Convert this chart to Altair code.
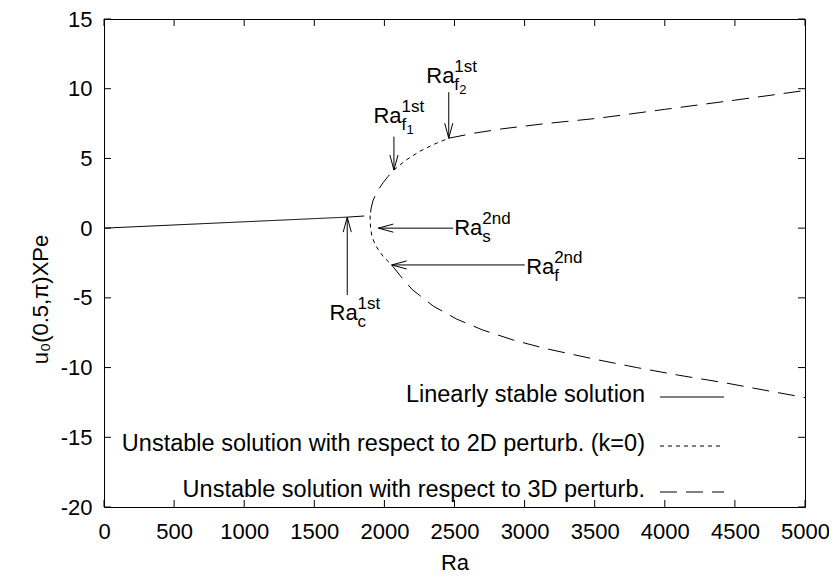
import altair as alt
import pandas as pd

# ---------------- data ----------------
stable_ra = [0, 1735]
stable_u = [0.0, 0.79]

up3d_inner_ra = [1735, 1898, 1906, 1918, 1935, 1960, 1990, 2025, 2068]
up3d_inner_u = [0.79, 0.90, 1.45, 1.95, 2.35, 2.80, 3.25, 3.70, 4.17]

up2d_ra = [2068, 2150, 2250, 2350, 2459]
up2d_u = [4.17, 4.85, 5.50, 6.00, 6.45]

up3d_outer_ra = [2459, 2646, 2837, 3150, 3523, 4000, 4500, 5000]
up3d_outer_u = [6.45, 6.82, 7.12, 7.50, 7.88, 8.52, 9.18, 9.87]

lo2d_ra = [1898, 1899, 1902, 1910, 1933, 1960, 1993, 2052]
lo2d_u = [0.90, 0.40, 0.00, -0.55, -1.15, -1.60, -2.05, -2.64]

lo3d_ra = [2052, 2120, 2199, 2350, 2517, 2700, 2930, 3156, 3500, 3800, 4100, 4433, 4700, 5000]
lo3d_u = [-2.64, -3.50, -4.41, -5.60, -6.53, -7.30, -8.06, -8.65, -9.40, -10.00, -10.55, -11.10, -11.60, -12.15]

# arrows: tail -> tip
arrow_tail_ra = [2459, 2068, 1735, 2491, 3001]
arrow_tail_u = [9.75, 6.56, -4.80, 0.0, -2.64]
arrow_tip_ra = [2459, 2068, 1735, 1957, 2052]
arrow_tip_u = [6.45, 4.17, 0.79, 0.0, -2.64]
arrow_angle = [90, 90, 270, 180, 180]

# annotation labels "Ra" with super/subscripts
label_ra = [2299, 1922, 1609, 2498, 3011]
label_u = [10.43, 7.53, -6.62, -0.52, -3.28]
label_sup = ["1st", "1st", "1st", "2nd", "2nd"]
label_sub = ["f", "f", "c", "s", "f"]
label_subsub = ["2", "1", "", "", ""]

x_ticks = list(range(0, 5001, 500))
y_ticks = list(range(-20, 16, 5))

legend_labels = [
    "Linearly stable solution",
    "Unstable solution with respect to 2D perturb. (k=0)",
    "Unstable solution with respect to 3D perturb.",
]
legend_styles = ["stable", "2d", "3d"]

# ---------------- tables ----------------
segments = [
    ("stable", "stable", stable_ra, stable_u),
    ("up3d_in", "3d", up3d_inner_ra, up3d_inner_u),
    ("up2d", "2d", up2d_ra, up2d_u),
    ("up3d_out", "3d", up3d_outer_ra, up3d_outer_u),
    ("lo2d", "2d", lo2d_ra, lo2d_u),
    ("lo3d", "3d", lo3d_ra, lo3d_u),
]
rows = []
for seg, style, ras, us in segments:
    for i, (r, u) in enumerate(zip(ras, us)):
        rows.append({"seg": seg, "style": style, "ra": r, "u": u, "ord": i})
curves = pd.DataFrame(rows)

arrows = pd.DataFrame({
    "ra": arrow_tail_ra, "u": arrow_tail_u,
    "ra_tip": arrow_tip_ra, "u_tip": arrow_tip_u, "angle": arrow_angle,
})
heads = pd.DataFrame({"ra": arrow_tip_ra, "u": arrow_tip_u, "angle": arrow_angle})

labels = pd.DataFrame({
    "ra": label_ra, "u": label_u, "sup": label_sup,
    "sub": label_sub, "subsub": label_subsub,
})
xt = pd.DataFrame({"ra": x_ticks})
yt = pd.DataFrame({"u": y_ticks})

# ---------------- styling ----------------
FONT = "Liberation Sans"
W, H = 701, 488
style_domain = ["stable", "2d", "3d"]
dash_range = [[1, 0], [4, 4], [17, 9]]
dash_of = dict(zip(style_domain, dash_range))

xscale = alt.Scale(domain=[0, 5000], nice=False, zero=False)
yscale = alt.Scale(domain=[-20, 15], nice=False, zero=False)
xaxis = alt.Axis(values=x_ticks, title="Ra", ticks=False, domain=False, grid=False,
                 labelFont=FONT, labelFontSize=22, labelColor="black", labelPadding=14,
                 labelExpr="'' + datum.value", labelFlush=False, labelOverlap=False,
                 titleFont=FONT, titleFontSize=22, titleFontWeight="normal",
                 titleColor="black", titlePadding=10)
yaxis = alt.Axis(values=y_ticks, title="u₀(0.5,π)XPe", ticks=False, domain=False, grid=False,
                 labelFont=FONT, labelFontSize=22, labelColor="black", labelPadding=12,
                 labelExpr="'' + datum.value", labelFlush=False, labelOverlap=False,
                 titleFont=FONT, titleFontSize=22, titleFontWeight="normal",
                 titleColor="black", titlePadding=8, titleY=H / 2 + 36, titleAlign="center")


def X(f):
    return alt.X(f, type="quantitative", scale=xscale, axis=xaxis)


def Y(f):
    return alt.Y(f, type="quantitative", scale=yscale, axis=yaxis)


lines = alt.Chart(curves).mark_line(color="black", strokeWidth=1).encode(
    x=X("ra"), y=Y("u"),
    detail="seg:N",
    order=alt.Order("ord:Q"),
    strokeDash=alt.StrokeDash("style:N", scale=alt.Scale(domain=style_domain, range=dash_range),
                              legend=None),
)

TL = 7
xticks_b = alt.Chart(xt).mark_rule(color="black", strokeWidth=1).encode(
    x=X("ra"), y=alt.value(H), y2=alt.value(H - TL))
xticks_t = alt.Chart(xt).mark_rule(color="black", strokeWidth=1).encode(
    x=X("ra"), y=alt.value(0), y2=alt.value(TL))
yticks_l = alt.Chart(yt).mark_rule(color="black", strokeWidth=1).encode(
    y=Y("u"), x=alt.value(0), x2=alt.value(TL))
yticks_r = alt.Chart(yt).mark_rule(color="black", strokeWidth=1).encode(
    y=Y("u"), x=alt.value(W), x2=alt.value(W - TL))

shafts = alt.Chart(arrows).mark_rule(color="black", strokeWidth=1).encode(
    x=X("ra"), y=Y("u"), x2=alt.X2("ra_tip"), y2=alt.Y2("u_tip"))
arrowheads = alt.Chart(heads).mark_point(
    shape="M -1 -0.27 L 0 0 L -1 0.27", filled=False, size=900,
    color="black", strokeWidth=1, opacity=1,
).encode(x=X("ra"), y=Y("u"), angle=alt.Angle("angle:Q", scale=None))

base_txt = alt.Chart(labels).mark_text(font=FONT, fontSize=22, align="left",
                                        baseline="alphabetic", color="black").encode(
    x=X("ra"), y=Y("u"), text=alt.value("Ra"))
sup_txt = alt.Chart(labels).mark_text(font=FONT, fontSize=17, align="left",
                                       baseline="alphabetic", color="black", dx=28, dy=-11).encode(
    x=X("ra"), y=Y("u"), text="sup:N")
sub_txt = alt.Chart(labels).mark_text(font=FONT, fontSize=17, align="left",
                                       baseline="alphabetic", color="black", dx=28, dy=7).encode(
    x=X("ra"), y=Y("u"), text="sub:N")
subsub_txt = alt.Chart(labels).mark_text(font=FONT, fontSize=13, align="left",
                                          baseline="alphabetic", color="black", dx=33, dy=11).encode(
    x=X("ra"), y=Y("u"), text="subsub:N")

layers = [lines, xticks_b, xticks_t, yticks_l, yticks_r, shafts, arrowheads,
          base_txt, sup_txt, sub_txt, subsub_txt]

legend_line_y = [378, 427, 473]
for lab, sty, ly in zip(legend_labels, legend_styles, legend_line_y):
    d = pd.DataFrame({"label": [lab]})
    layers.append(alt.Chart(d).mark_text(font=FONT, fontSize=23.5, align="right",
                                         baseline="middle", color="black").encode(
        x=alt.value(541), y=alt.value(ly - 2), text="label:N"))
    layers.append(alt.Chart(d).mark_rule(color="black", strokeWidth=1,
                                         strokeDash=dash_of[sty]).encode(
        x=alt.value(556), x2=alt.value(620), y=alt.value(ly)))

chart = alt.layer(*layers).properties(
    width=W, height=H,
    padding={"left": 96, "top": 11, "right": 24, "bottom": 69},
    autosize=alt.AutoSizeParams(type="none"),
).configure(font=FONT).configure_view(stroke="black", strokeWidth=1)

chart.save("out.html", embed_options={"renderer": "svg", "actions": False})
